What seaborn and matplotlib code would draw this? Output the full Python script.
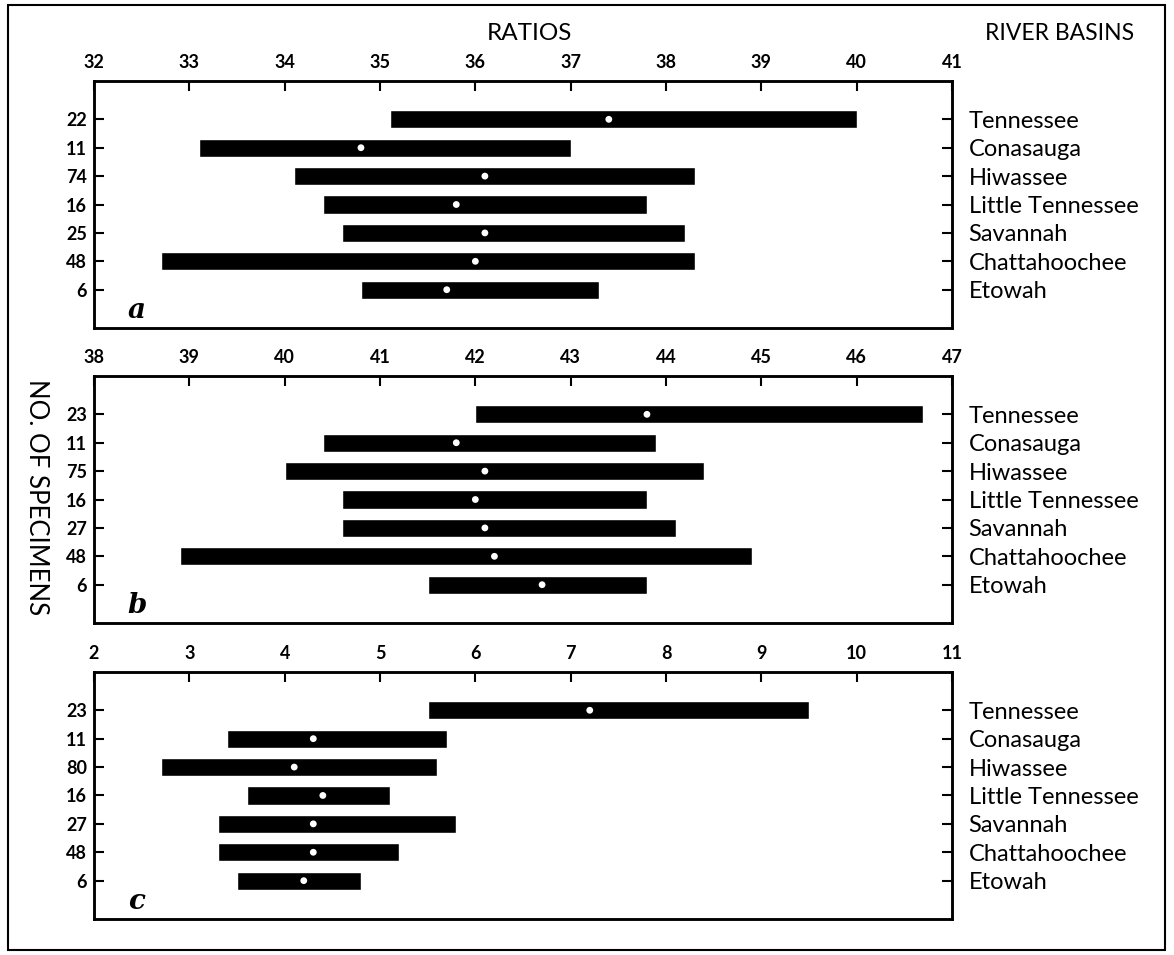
import numpy as np
import pandas as pd
import matplotlib
matplotlib.use('Agg')
import matplotlib.pyplot as plt
import seaborn as sns

# river basins, top to bottom
basins = ['Tennessee', 'Conasauga', 'Hiwassee', 'Little Tennessee',
          'Savannah', 'Chattahoochee', 'Etowah']

# panel a
counts_a = [22, 11, 74, 16, 25, 48, 6]
low_a = [35.1, 33.1, 34.1, 34.4, 34.6, 32.7, 34.8]
high_a = [40.0, 37.0, 38.3, 37.8, 38.2, 38.3, 37.3]
mean_a = [37.4, 34.8, 36.1, 35.8, 36.1, 36.0, 35.7]
ticks_a = list(range(32, 42))

# panel b
counts_b = [23, 11, 75, 16, 27, 48, 6]
low_b = [42.0, 40.4, 40.0, 40.6, 40.6, 38.9, 41.5]
high_b = [46.7, 43.9, 44.4, 43.8, 44.1, 44.9, 43.8]
mean_b = [43.8, 41.8, 42.1, 42.0, 42.1, 42.2, 42.7]
ticks_b = list(range(38, 48))

# panel c
counts_c = [23, 11, 80, 16, 27, 48, 6]
low_c = [5.5, 3.4, 2.7, 3.6, 3.3, 3.3, 3.5]
high_c = [9.5, 5.7, 5.6, 5.1, 5.8, 5.2, 4.8]
mean_c = [7.2, 4.3, 4.1, 4.4, 4.3, 4.3, 4.2]
ticks_c = list(range(2, 12))

sns.set_theme(style='white')
plt.rcParams['font.family'] = ['Lato', 'DejaVu Sans']
plt.rcParams['text.color'] = 'black'
plt.rcParams['xtick.color'] = 'black'
plt.rcParams['ytick.color'] = 'black'
plt.rcParams['axes.labelcolor'] = 'black'

fig = plt.figure(figsize=(11.74, 9.55), dpi=100)

panels = [
    ('a', counts_a, low_a, high_a, mean_a, ticks_a, 0.6565),
    ('b', counts_b, low_b, high_b, mean_b, ticks_b, 0.3476),
    ('c', counts_c, low_c, high_c, mean_c, ticks_c, 0.0377),
]

for letter, counts, low, high, mean, ticks, bottom in panels:
    ax = fig.add_axes([0.0801, bottom, 0.7308, 0.259])
    df = pd.DataFrame({'basin': basins, 'n': counts, 'low': low,
                       'high': high, 'mean': mean})
    df['row'] = np.arange(len(df))

    ax.barh(df['row'], df['high'] - df['low'], left=df['low'],
            height=0.64, color='black')
    sns.scatterplot(data=df, x='mean', y='row', ax=ax, color='white',
                    s=24, edgecolor='none', zorder=3, legend=False)

    ax.set_xlim(ticks[0], ticks[-1])
    ax.set_ylim(7.35, -1.36)
    ax.set_xticks(ticks)
    ax.set_xticklabels([str(t) for t in ticks], fontweight='bold')
    ax.xaxis.tick_top()
    ax.set_yticks(df['row'])
    ax.set_yticklabels([str(c) for c in counts], fontweight='bold')
    ax.set_xlabel('')
    ax.set_ylabel('')
    ax.tick_params(axis='x', direction='in', length=7, width=1.5,
                   labelsize=13, pad=7, top=True, bottom=False)
    ax.tick_params(axis='y', direction='in', length=7, width=1.5,
                   labelsize=13, pad=5, left=True)
    for sp in ax.spines.values():
        sp.set_linewidth(1.8)
        sp.set_color('black')

    ax2 = ax.twinx()
    ax2.set_ylim(ax.get_ylim())
    ax2.set_yticks(df['row'])
    ax2.set_yticklabels(basins)
    ax2.tick_params(axis='y', direction='in', length=7, width=1.5,
                    labelsize=17, pad=12, right=True)
    for sp in ax2.spines.values():
        sp.set_linewidth(1.8)
        sp.set_color('black')

    ax.text(0.05, 0.07, letter, transform=ax.transAxes, fontsize=20,
            family='DejaVu Serif', style='italic', fontweight='bold',
            ha='center', va='center')

fig.text(529 / 1174, 1 - 33 / 955, 'RATIOS', fontsize=17.5,
         ha='center', va='center')
fig.text(1060 / 1174, 1 - 33 / 955, 'RIVER BASINS', fontsize=16.5,
         ha='center', va='center')
fig.text(36 / 1174, 1 - 497 / 955, 'NO. OF SPECIMENS', fontsize=18.5,
         rotation=-90, ha='center', va='center')

fig.add_artist(plt.Rectangle((0.007, 0.005), 0.985, 0.9895,
                             transform=fig.transFigure, fill=False,
                             lw=1.5, color='black'))

fig.savefig('out.png', dpi=100)
